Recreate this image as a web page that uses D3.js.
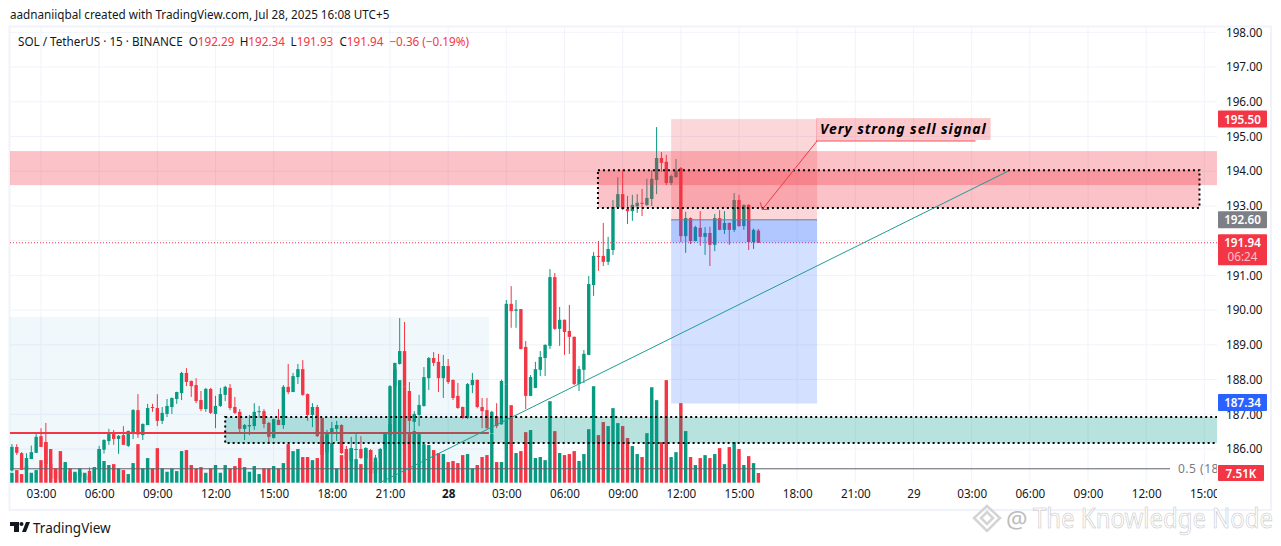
<!DOCTYPE html>
<html>
<head>
<meta charset="utf-8">
<script src="https://cdn.jsdelivr.net/npm/d3@7"></script>
<style>
  html, body { margin: 0; padding: 0; background: #fff; overflow: hidden; }
  text { font-family: "Noto Sans", Roboto, sans-serif; }
  .axis path, .axis line { display: none; }
  .axis text { fill: #131722; font-size: 11.7px; font-family: "Noto Sans", sans-serif; }
</style>
</head>
<body>
<svg id="chart" width="1281" height="546"></svg>
<script>
// candles, 15 min bars (first bar 27 Jul 01:30)
const opens = [185.38,186.06,185.88,185.40,185.71,185.89,186.37,186.20,185.57,185.44,185.40,185.10,185.35,185.10,185.20,185.10,185.37,185.11,185.44,185.98,
186.23,186.43,186.29,186.40,186.09,186.48,187.12,186.40,186.69,187.21,187.18,186.81,187.01,187.21,187.44,187.61,188.19,187.96,187.84,187.41,
187.15,187.73,187.01,187.24,187.56,187.76,187.21,187.07,186.58,186.65,186.66,187.07,187.09,186.75,186.32,186.84,186.69,187.79,187.64,188.07,
188.30,187.58,186.98,187.21,186.37,185.90,186.43,186.58,186.69,186.00,185.65,185.98,186.00,185.72,185.97,185.30,185.75,186.00,186.40,187.81,
188.45,188.82,187.67,186.78,186.98,187.24,188.04,188.62,188.51,188.04,188.39,187.99,187.53,187.21,186.89,187.84,187.99,187.21,187.12,186.45,
186.95,186.71,187.87,190.18,189.98,190.03,188.94,187.53,187.76,188.28,188.62,188.97,190.95,189.46,189.72,189.40,189.23,187.87,188.28,188.71,
190.72,191.56,191.56,191.39,191.73,192.97,193.34,192.91,192.85,192.99,193.09,193.03,193.20,193.75,194.38,194.27,193.66,193.83,194.09,192.13,
192.65,191.99,192.37,192.11,192.22,191.88,192.65,192.31,192.51,192.31,193.17,192.42,193.03,191.96,192.29];
const highs = [186.14,186.14,185.91,185.88,186.10,186.43,186.60,186.75,185.59,185.45,185.42,185.50,185.40,185.32,185.40,185.30,185.47,185.46,186.09,186.28,
186.58,186.55,186.40,186.66,186.53,187.15,187.58,186.74,187.30,187.30,187.58,187.21,187.44,187.48,187.65,188.22,188.33,187.97,188.04,187.67,
187.76,187.76,187.53,187.76,187.82,187.87,187.50,187.15,186.72,186.98,187.32,187.24,187.15,186.78,186.88,187.15,187.84,188.45,188.19,188.45,
188.56,187.60,187.32,187.27,186.39,186.55,186.78,186.81,186.71,186.09,186.35,186.43,186.37,186.05,186.00,185.83,186.03,186.44,187.84,188.48,
189.77,189.66,187.93,187.09,187.56,188.36,188.65,188.79,188.74,188.71,188.59,188.00,187.90,187.22,187.90,188.19,188.00,187.47,187.47,187.10,
187.32,188.00,190.29,190.69,190.29,190.03,189.11,188.13,188.51,188.82,189.01,191.18,191.07,190.09,189.73,190.15,189.24,188.39,188.85,190.98,
191.67,191.99,192.51,192.11,193.17,193.83,194.04,193.29,193.32,193.34,193.49,193.78,194.04,195.27,194.55,194.47,193.90,194.35,194.12,192.83,
192.67,192.43,192.85,192.39,192.40,192.77,192.88,192.85,192.52,193.37,193.32,193.04,193.05,192.35,192.34];
const lows = [185.35,185.83,185.39,185.38,185.71,185.89,186.06,185.54,185.11,185.03,185.03,185.05,185.05,185.05,185.10,185.05,185.05,185.08,185.40,185.87,
186.12,186.12,185.86,186.12,186.06,186.29,186.32,186.26,186.69,187.07,186.66,186.72,186.92,187.01,187.30,187.41,187.81,187.50,187.32,187.09,
187.07,187.01,186.60,187.21,187.38,187.12,187.01,186.46,186.26,186.40,186.55,186.90,186.60,186.17,186.30,186.69,186.58,187.58,187.64,187.87,
187.53,186.81,186.63,186.35,185.80,185.85,186.17,186.23,185.86,185.60,185.60,185.71,185.71,185.70,185.28,185.28,185.70,185.98,186.38,186.90,
188.43,187.80,186.46,186.46,186.66,187.22,187.70,188.39,187.64,187.47,187.87,187.41,187.16,186.87,186.87,187.61,187.17,186.60,186.58,186.40,
186.60,186.70,187.85,189.49,189.49,188.87,187.15,187.52,187.75,188.10,188.10,188.88,189.43,188.97,188.71,188.74,187.84,187.67,187.90,188.70,
190.41,191.13,191.27,191.30,191.59,192.96,192.88,192.48,192.57,192.80,192.71,193.00,193.00,193.34,193.98,193.60,193.60,193.81,191.96,191.65,
191.90,191.98,191.85,191.59,191.27,191.70,192.30,192.19,191.88,192.25,192.40,192.31,191.73,191.76,191.93];
const closes = [186.06,185.89,185.40,185.74,185.91,186.35,186.06,185.57,185.14,185.15,185.10,185.45,185.10,185.30,185.35,185.28,185.11,185.42,186.00,186.26,
186.43,186.29,186.38,186.12,186.52,187.12,186.42,186.72,187.18,187.18,186.81,187.04,187.24,187.47,187.64,188.19,187.93,187.81,187.38,187.15,
187.73,187.04,187.24,187.58,187.79,187.18,187.04,186.58,186.69,186.69,187.07,187.09,186.72,186.35,186.86,186.69,187.79,187.64,188.10,188.30,
187.56,186.98,187.21,186.37,185.83,186.42,186.60,186.69,185.88,185.70,186.02,186.00,185.74,186.03,185.30,185.75,186.00,186.42,187.81,188.48,
188.82,187.81,186.81,187.01,187.27,188.07,188.62,188.48,188.04,188.39,187.93,187.47,187.18,186.89,187.87,187.99,187.21,187.09,186.60,187.07,
186.66,187.96,190.18,189.97,190.02,188.88,187.53,188.07,188.30,188.65,189.00,190.95,189.46,189.72,189.37,189.23,187.87,188.30,188.74,190.75,
191.56,191.53,191.39,191.76,192.97,193.34,192.91,192.85,193.03,193.09,193.06,193.23,193.78,194.38,194.24,193.66,193.86,194.01,192.13,192.65,
191.99,192.39,192.11,192.22,191.88,192.65,192.31,192.51,192.31,193.17,192.42,193.03,191.96,192.31,191.94];
// volume in K
const volumes = [7.7,9.8,6.7,12.9,7.7,9.8,17.5,31.5,26.1,11.1,24.5,16.0,11.1,8.5,11.1,7.7,5.2,12.1,26.1,16.8,
13.7,14.4,11.1,9.8,6.7,15.2,29.9,11.1,19.1,11.1,26.8,11.1,8.5,11.1,9.0,24.5,25.3,13.7,11.1,12.1,
7.7,11.1,13.7,7.7,13.7,11.1,12.9,19.1,12.1,8.5,12.9,6.7,11.1,11.1,12.9,11.1,15.2,29.9,24.5,26.1,
19.9,19.9,17.5,19.1,50.1,37.7,30.7,11.1,21.4,23.7,26.8,18.3,14.4,26.8,25.3,16.0,26.1,37.7,45.4,88.0,
79.5,74.8,37.7,40.0,37.7,29.9,29.2,25.3,23.0,22.2,16.0,16.8,15.2,21.4,22.2,11.1,13.7,19.9,21.4,37.7,
16.0,16.0,76.4,60.1,23.0,24.5,39.2,40.8,19.1,19.9,17.5,63.2,40.0,23.0,21.4,22.2,24.5,16.8,22.2,41.5,
74.8,36.9,47.0,43.9,57.8,46.2,43.9,34.6,28.4,22.2,19.9,38.4,74.0,64.0,31.5,79.5,19.9,23.7,61.7,40.0,
19.9,13.7,19.1,21.4,19.1,22.2,26.8,14.4,27.6,31.5,26.1,13.7,20.6,15.2,7.51];

const priceTicks = [186,187,188,189,190,191,193,194,195,196,197,198];
const timeTickBars = [6,18,30,42,54,66,78,90,102,114,126,138,150,162,174,186,198,210,222,234,246];
const timeTickLabels = ["03:00","06:00","09:00","12:00","15:00","18:00","21:00","28","03:00","06:00","09:00","12:00","15:00","18:00","21:00","29","03:00","06:00","09:00","12:00","15:00"];

// drawings, in bar index and price
const shadeBox = { x0: -0.4, x1: 98.4, top: 189.80, bottom: 184.9 };
const shadeLine = 186.46;
const redZone = { top: 194.58, bottom: 193.60 };
const dottedRed = { x0: 120.9, x1: 245, top: 194.03, bottom: 192.94 };
const dottedGreen = { x0: 44, x1: 262, top: 186.92, bottom: 186.17 };
const position = { x0: 136, x1: 166.1, target: 195.50, entry: 192.60, stop: 187.31 };
const trend = [[75.9, 185.03], [205.5, 194.0]];
const note = { x0: 165.9, x1: 201.9, top: 195.53, bottom: 194.90, lineEnd: 198.8 };
const noteArrow = [[166.1, 194.87], [154.8, 192.90]];
const lastPrice = 191.94;
const fibLine = 185.43;

const colorUp = "#089981", colorDown = "#f23645";

const svg = d3.select("#chart");
const x = d3.scaleLinear().domain([6, 150]).range([41, 739]);
const y = d3.scaleLinear().domain([186, 198]).range([449, 32.3]);
const yVol = d3.scaleLinear().domain([0, 100]).range([482.7, 353.7]);
const barW = 3.4;

// frame
svg.append("rect").attr("x", 9.5).attr("y", 26.5).attr("width", 1261.5).attr("height", 483.5)
  .attr("fill", "none").attr("stroke", "#f0f3fa").attr("stroke-width", 2);

const defs = svg.append("defs");
defs.append("clipPath").attr("id", "pane").append("rect")
  .attr("x", 10).attr("y", 27).attr("width", 1207).attr("height", 456);
defs.append("clipPath").attr("id", "timeScale").append("rect")
  .attr("x", 10).attr("y", 484).attr("width", 1207).attr("height", 25);

const pane = svg.append("g").attr("clip-path", "url(#pane)");

// grid
pane.append("g").selectAll("line").data(timeTickBars).join("line")
  .attr("x1", d => x(d)).attr("x2", d => x(d)).attr("y1", 27).attr("y2", 483)
  .attr("stroke", "#f0f3fa");
pane.append("g").selectAll("line").data(priceTicks.concat([192])).join("line")
  .attr("x1", 10).attr("x2", 1217).attr("y1", d => y(d)).attr("y2", d => y(d))
  .attr("stroke", "#f0f3fa");

// pale box under the candles
pane.append("rect")
  .attr("x", x(shadeBox.x0)).attr("width", x(shadeBox.x1) - x(shadeBox.x0))
  .attr("y", y(shadeBox.top)).attr("height", y(shadeBox.bottom) - y(shadeBox.top))
  .attr("fill", "rgba(0,130,200,0.06)");

const bars = d3.range(closes.length);
const barColor = i => closes[i] >= opens[i] ? colorUp : colorDown;

// volume
pane.append("g").selectAll("rect").data(bars).join("rect")
  .attr("x", i => x(i) - barW / 2).attr("width", barW)
  .attr("y", i => yVol(volumes[i])).attr("height", i => yVol(0) - yVol(volumes[i]))
  .attr("fill", barColor);

// fib line sits over the volume
pane.append("line").attr("x1", 10).attr("x2", 1170).attr("y1", y(fibLine)).attr("y2", y(fibLine))
  .attr("stroke", "#5d606b").attr("stroke-width", 1);
pane.append("text").attr("x", 1178).attr("y", y(fibLine) + 4).attr("fill", "#787b86")
  .attr("font-size", 12).attr("letter-spacing", 0.5).text("0.5 (185.43)");

// candles
pane.append("g").selectAll("line").data(bars).join("line")
  .attr("x1", i => x(i)).attr("x2", i => x(i))
  .attr("y1", i => y(highs[i])).attr("y2", i => y(lows[i]))
  .attr("stroke", barColor).attr("stroke-width", 1);
pane.append("g").selectAll("rect").data(bars).join("rect")
  .attr("x", i => x(i) - barW / 2).attr("width", barW)
  .attr("y", i => y(Math.max(opens[i], closes[i])))
  .attr("height", i => Math.max(1, Math.abs(y(opens[i]) - y(closes[i]))))
  .attr("fill", barColor);

// last price line
pane.append("line").attr("x1", 10).attr("x2", 1217).attr("y1", y(lastPrice)).attr("y2", y(lastPrice))
  .attr("stroke", colorDown).attr("stroke-width", 1).attr("stroke-dasharray", "1,2");

pane.append("line").attr("x1", x(shadeBox.x0)).attr("x2", x(shadeBox.x1))
  .attr("y1", y(shadeLine)).attr("y2", y(shadeLine))
  .attr("stroke", "#f23645").attr("stroke-width", 2);

// position tool
pane.append("rect").attr("x", x(position.x0)).attr("width", x(position.x1) - x(position.x0))
  .attr("y", y(position.target)).attr("height", y(position.entry) - y(position.target))
  .attr("fill", "rgba(242,54,69,0.2)");
pane.append("rect").attr("x", x(position.x0)).attr("width", x(position.x1) - x(position.x0))
  .attr("y", y(position.entry)).attr("height", y(position.stop) - y(position.entry))
  .attr("fill", "rgba(41,98,255,0.2)");
pane.append("rect").attr("x", x(position.x0)).attr("width", x(position.x1) - x(position.x0))
  .attr("y", y(position.entry)).attr("height", y(lastPrice) - y(position.entry))
  .attr("fill", "rgba(41,98,255,0.2)");
pane.append("line").attr("x1", x(position.x0)).attr("x2", x(position.x1))
  .attr("y1", y(position.entry)).attr("y2", y(position.entry))
  .attr("stroke", "#787b86");

// zones
pane.append("rect").attr("x", 10).attr("width", 1207)
  .attr("y", y(redZone.top)).attr("height", y(redZone.bottom) - y(redZone.top))
  .attr("fill", "rgba(242,54,69,0.3)");
pane.append("rect").attr("x", x(dottedRed.x0)).attr("width", x(dottedRed.x1) - x(dottedRed.x0))
  .attr("y", y(dottedRed.top)).attr("height", y(dottedRed.bottom) - y(dottedRed.top))
  .attr("fill", "rgba(242,54,69,0.3)").attr("stroke", "#000").attr("stroke-width", 2)
  .attr("stroke-dasharray", "2,3");
pane.append("rect").attr("x", x(dottedGreen.x0)).attr("width", x(dottedGreen.x1) - x(dottedGreen.x0))
  .attr("y", y(dottedGreen.top)).attr("height", y(dottedGreen.bottom) - y(dottedGreen.top))
  .attr("fill", "rgba(0,150,136,0.28)").attr("stroke", "#000").attr("stroke-width", 2)
  .attr("stroke-dasharray", "2,3");

// trend line
pane.append("line").attr("x1", x(trend[0][0])).attr("y1", y(trend[0][1]))
  .attr("x2", x(trend[1][0])).attr("y2", y(trend[1][1]))
  .attr("stroke", "#1f9e90").attr("stroke-width", 1);

// sell signal note
pane.append("rect").attr("x", x(note.x0)).attr("width", x(note.x1) - x(note.x0))
  .attr("y", y(note.top)).attr("height", y(note.bottom) - y(note.top))
  .attr("fill", "rgba(242,54,69,0.28)");
pane.append("line").attr("x1", x(note.x0)).attr("x2", x(note.lineEnd))
  .attr("y1", y(note.bottom) + 1).attr("y2", y(note.bottom) + 1)
  .attr("stroke", colorDown).attr("stroke-width", 1);
pane.append("text").attr("x", x(note.x0) + 4).attr("y", y(note.bottom) - 6)
  .attr("font-family", "DejaVu Sans").attr("font-size", 14).attr("font-style", "italic")
  .attr("font-weight", "bold").attr("letter-spacing", 0.9).attr("fill", "#000")
  .text("Very strong sell signal");
const tipX = x(noteArrow[1][0]), tipY = y(noteArrow[1][1]);
pane.append("path")
  .attr("d", d3.line()([[x(noteArrow[0][0]), y(noteArrow[0][1])], [tipX, tipY]]))
  .attr("stroke", colorDown).attr("fill", "none");
pane.append("path")
  .attr("d", d3.line()([[tipX - 2, tipY - 7], [tipX, tipY], [tipX + 7, tipY]]))
  .attr("stroke", colorDown).attr("stroke-width", 1).attr("fill", "none");

// axes
const yAxis = d3.axisRight(y).tickValues(priceTicks).tickSize(0).tickPadding(0).tickFormat(d3.format(".2f"));
svg.append("g").attr("class", "axis").attr("transform", "translate(1226,0)").call(yAxis);
const xAxis = d3.axisBottom(x).tickValues(timeTickBars).tickSize(0).tickPadding(0)
  .tickFormat((d, i) => timeTickLabels[i]);
const xAxisG = svg.append("g").attr("clip-path", "url(#timeScale)").append("g")
  .attr("class", "axis").attr("transform", "translate(0,490)").call(xAxis);
xAxisG.selectAll("text").filter((d, i) => timeTickLabels[i] === "28").attr("font-weight", "bold");

// price labels on the scale
function priceTag(price, label, fill, w, h, sub) {
  const g = svg.append("g");
  const top = y(price) - 8.5;
  g.append("rect").attr("x", 1218).attr("y", top).attr("width", w).attr("height", h).attr("rx", 1).attr("fill", fill);
  g.append("text").attr("x", 1218 + w / 2).attr("y", top + 13).attr("text-anchor", "middle")
    .attr("fill", "#fff").attr("font-size", 11.7).attr("font-weight", 600).text(label);
  if (sub) {
    g.append("text").attr("x", 1218 + w / 2).attr("y", top + 27).attr("text-anchor", "middle")
      .attr("fill", "#fff").attr("fill-opacity", 0.7).attr("font-size", 11.7).text(sub);
  }
}
priceTag(position.target, "195.50", colorDown, 49, 17);
priceTag(position.entry, "192.60", "#7d7f87", 49, 17);
priceTag(lastPrice, "191.94", colorDown, 49, 31, "06:24");
priceTag(187.34, "187.34", "#2962ff", 49, 17);
const volTop = yVol(7.51);
svg.append("rect").attr("x", 1218).attr("y", volTop - 8).attr("width", 46).attr("height", 16).attr("rx", 1).attr("fill", colorDown);
svg.append("text").attr("x", 1241).attr("y", volTop + 4.5).attr("text-anchor", "middle").attr("fill", "#fff")
  .attr("font-size", 11.7).attr("font-weight", 600).text("7.51K");

// headings
svg.append("text").attr("x", 10).attr("y", 19).attr("font-size", 11.7).attr("fill", "#131722")
  .text("aadnaniiqbal created with TradingView.com, Jul 28, 2025 16:08 UTC+5");
const legend = svg.append("text").attr("x", 18).attr("y", 46).attr("font-size", 11.7).attr("fill", "#131722");
legend.append("tspan").text("SOL / TetherUS · 15 · BINANCE");
[["O", "192.29", 6], ["H", "192.34", 5.3], ["L", "191.93", 5.7], ["C", "191.94", 6.2]].forEach(([k, v, gap]) => {
  legend.append("tspan").attr("dx", gap).text(k);
  legend.append("tspan").attr("fill", colorDown).text(v);
});
legend.append("tspan").attr("dx", 6).attr("fill", colorDown).text("−0.36 (−0.19%)");

// TradingView mark
svg.append("path").attr("fill", "#131722")
  .attr("d", "M10 522h9v10h-5v-6h-4z M26 522h4l-4 10h-4z");
svg.append("circle").attr("cx", 21.5).attr("cy", 524).attr("r", 2).attr("fill", "#131722");
svg.append("text").attr("x", 33).attr("y", 533).attr("font-size", 13.5).attr("fill", "#131722").text("TradingView");

// watermark
const wm = svg.append("g");
wm.append("path").attr("d", "M987 506l13 12-13 13-13-13z M987 512l6 6-6 6-6-6z")
  .attr("fill", "none").attr("stroke", "#d4d4d4").attr("stroke-width", 2.5);
wm.append("text").attr("x", 1006).attr("y", 528).attr("font-size", 24).attr("fill", "#bdbdbd").text("@");
wm.append("text").attr("x", 1033).attr("y", 528).attr("font-family", "Lato").attr("font-size", 27)
  .attr("textLength", 240).attr("lengthAdjust", "spacingAndGlyphs")
  .attr("fill", "#fff").attr("stroke", "#c6c6c6").attr("stroke-width", 0.6).text("The Knowledge Node");
</script>
</body>
</html>
